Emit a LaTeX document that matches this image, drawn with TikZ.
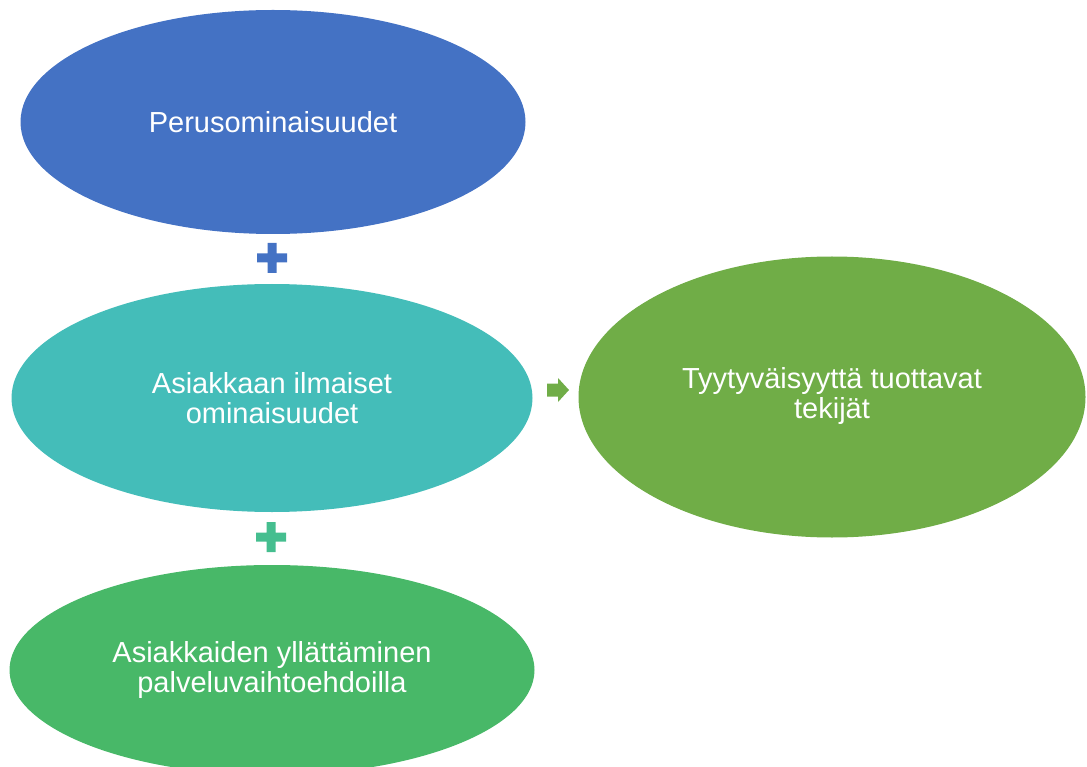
\documentclass[tikz,border=0pt]{standalone}
\usepackage{fontspec}
\setmainfont{Liberation Sans}
\usetikzlibrary{shapes.geometric,calc}

\definecolor{cblue}{HTML}{4472C4}
\definecolor{cteal}{HTML}{44BDB9}
\definecolor{cgreen}{HTML}{48B868}
\definecolor{colive}{HTML}{70AD47}
\definecolor{cmint}{HTML}{45BE8F}

\tikzset{
  blob/.style={ellipse, inner sep=0pt, text=white, align=center,
    font=\fontsize{29}{30}\selectfont},
  plussign/.style={fill=#1, draw=none},
}

\begin{document}
\begin{tikzpicture}[x=1pt, y=-1pt]
  \useasboundingbox (0,0) rectangle (1087,767);

  % the four ellipses
  \node[blob, fill=cblue, minimum width=505pt, minimum height=224pt]
    (base) at (273,122) {Perusominaisuudet};
  \node[blob, fill=cteal, minimum width=521pt, minimum height=228pt]
    (expr) at (272,398) {Asiakkaan ilmaiset\\ominaisuudet};
  \node[blob, fill=cgreen, minimum width=525pt, minimum height=210pt]
    (surp) at (272,670) {Asiakkaiden yllättäminen\\palveluvaihtoehdoilla};
  \node[blob, fill=colive, minimum width=507pt, minimum height=281pt]
    (sat) at (832,397) {\raisebox{7pt}{\begin{tabular}{@{}c@{}}Tyytyväisyyttä tuottavat\\tekijät\end{tabular}}};

  % plus signs between the stacked ellipses
  \coordinate (p1) at (272,258);
  \coordinate (p2) at (271,537);
  \foreach \c/\col in {p1/cblue, p2/cmint} {
    \fill[\col] ($(\c)+(-15,-4.5)$) -- ($(\c)+(-4.5,-4.5)$) -- ($(\c)+(-4.5,-15)$)
      -- ($(\c)+(4.5,-15)$) -- ($(\c)+(4.5,-4.5)$) -- ($(\c)+(15,-4.5)$)
      -- ($(\c)+(15,4.5)$) -- ($(\c)+(4.5,4.5)$) -- ($(\c)+(4.5,15)$)
      -- ($(\c)+(-4.5,15)$) -- ($(\c)+(-4.5,4.5)$) -- ($(\c)+(-15,4.5)$) -- cycle;
  }

  % block arrow towards the result
  \coordinate (ar) at (547,390);
  \fill[colive] ($(ar)+(0,-6.5)$) -- ($(ar)+(11,-6.5)$) -- ($(ar)+(11,-12)$)
    -- ($(ar)+(22,0)$) -- ($(ar)+(11,12)$) -- ($(ar)+(11,6.5)$)
    -- ($(ar)+(0,6.5)$) -- cycle;
\end{tikzpicture}
\end{document}
